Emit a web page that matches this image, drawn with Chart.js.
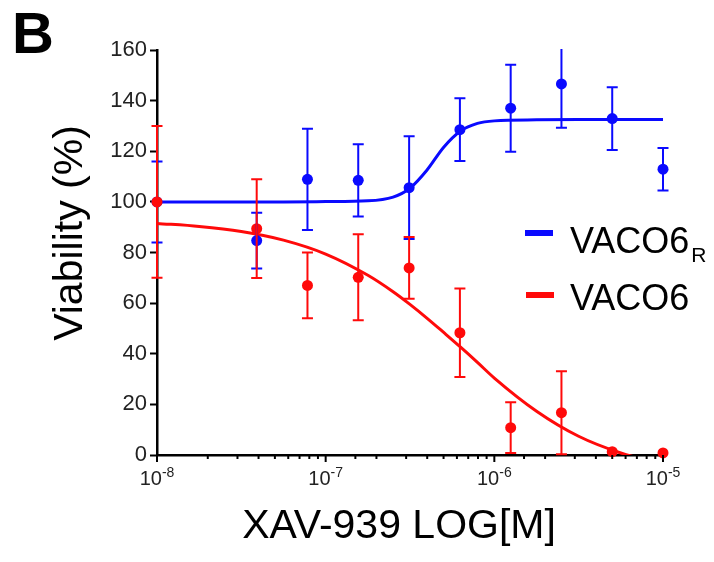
<!DOCTYPE html>
<html>
<head>
<meta charset="utf-8">
<script src="https://cdn.jsdelivr.net/npm/chart.js@4.4.1/dist/chart.umd.min.js"></script>
<style>
  body { margin: 0; background: #fff; }
</style>
</head>
<body>
<canvas id="viability-chart" width="714" height="562"></canvas>
<script>
// measured doses (M), 2-fold dilution from 10 uM, control plotted at 1e-8
var doses = [1e-8, 3.9e-8, 7.8e-8, 1.56e-7, 3.125e-7, 6.25e-7, 1.25e-6, 2.5e-6, 5e-6, 1e-5];
var resistantMean = [100, 84.7, 108.9, 108.5, 105.6, 128.5, 137, 146.6, 132.9, 112.9];
var resistantErr  = [16, 11, 20, 14.3, 20.3, 12.4, 17.2, 17.3, 12.4, 8.4];
var parentalMean  = [100, 89.4, 67, 70.2, 73.9, 48.3, 10.8, 16.7, 1.3, 0.8];
var parentalErr   = [30, 19.5, 13, 17, 12.2, 17.5, 10, 16.4, 0, 0];

// fitted curves
var fitDoses     = [1e-8, 1.78e-8, 3.16e-8, 5.62e-8, 1e-7, 1.78e-7, 2.51e-7, 3.16e-7, 3.98e-7, 5.01e-7, 6.31e-7, 7.94e-7, 1e-6, 1.78e-6, 3.16e-6, 5.62e-6, 1e-5];
var resistantFit = [100, 100, 100, 100, 100.1, 100.4, 101.9, 105.4, 112.5, 121.6, 128, 131, 132, 132.4, 132.5, 132.5, 132.5];
var parentalFit  = [91.5, 90.3, 88.3, 84.9, 79.4, 71.0, 64.5, 59.5, 54.1, 48.4, 42.6, 36.6, 30.4, 17.3, 7.4, 0.8, -3.6];

var yMin = 0, yMax = 160, yStep = 20;
var xMin = 1e-8, xMax = 1e-5;

var BLUE = '#0a0aff', RED = '#ff0a0a';
var FONT = "'Liberation Sans', Arial, sans-serif";

function pts(xs, ys) {
  return xs.map(function (x, i) { return {x: x, y: ys[i]}; });
}
function isDecade(v) {
  var l = Math.log10(v);
  return Math.abs(l - Math.round(l)) < 1e-6;
}

var errorBars = {
  id: 'errorBars',
  afterDatasetsDraw: function (chart) {
    var ctx = chart.ctx, xs = chart.scales.x, ys = chart.scales.y, a = chart.chartArea;
    ctx.save();
    ctx.beginPath();
    ctx.rect(a.left - 10, a.top - 1, a.right - a.left + 20, a.bottom - a.top + 2);
    ctx.clip();
    [[resistantMean, resistantErr, BLUE], [parentalMean, parentalErr, RED]].forEach(function (s) {
      ctx.strokeStyle = s[2];
      ctx.lineWidth = 2;
      doses.forEach(function (d, i) {
        if (!s[1][i]) return;
        var px = xs.getPixelForValue(d);
        var hi = ys.getPixelForValue(s[0][i] + s[1][i]);
        var lo = ys.getPixelForValue(s[0][i] - s[1][i]);
        ctx.beginPath();
        ctx.moveTo(px, hi); ctx.lineTo(px, lo);
        ctx.moveTo(px - 5.5, hi); ctx.lineTo(px + 5.5, hi);
        ctx.moveTo(px - 5.5, lo); ctx.lineTo(px + 5.5, lo);
        ctx.stroke();
      });
    });
    ctx.restore();
  }
};

var annotations = {
  id: 'annotations',
  afterDraw: function (chart) {
    var ctx = chart.ctx, xs = chart.scales.x, a = chart.chartArea;
    ctx.save();
    // x tick marks (longer at decades) and 10^n labels with a real superscript
    ctx.strokeStyle = '#000';
    ctx.fillStyle = '#222';
    ctx.lineWidth = 2;
    ctx.textBaseline = 'alphabetic';
    xs.ticks.forEach(function (t) {
      var px = xs.getPixelForValue(t.value);
      var major = isDecade(t.value);
      ctx.beginPath();
      ctx.moveTo(px, a.bottom);
      ctx.lineTo(px, a.bottom + (major ? 7 : 4));
      ctx.stroke();
      if (!major) return;
      var exp = String(Math.round(Math.log10(t.value)));
      ctx.font = '20px ' + FONT;
      var wb = ctx.measureText('10').width;
      ctx.font = '14px ' + FONT;
      var we = ctx.measureText(exp).width;
      var left = px - (wb + we) / 2;
      ctx.textAlign = 'left';
      ctx.font = '20px ' + FONT;
      ctx.fillText('10', left, 485);
      ctx.font = '14px ' + FONT;
      ctx.fillText(exp, left + wb, 477);
    });

    ctx.fillStyle = '#000';
    ctx.font = 'bold 58px ' + FONT;
    ctx.textAlign = 'left';
    ctx.fillText('B', 12, 53);

    ctx.font = '41px ' + FONT;
    ctx.textAlign = 'center';
    ctx.fillText('XAV-939 LOG[M]', 399, 538);

    ctx.save();
    ctx.translate(82, 233);
    ctx.rotate(-Math.PI / 2);
    ctx.fillText('Viability (%)', 0, 0);
    ctx.restore();

    // legend
    ctx.lineWidth = 6;
    ctx.strokeStyle = BLUE;
    ctx.beginPath(); ctx.moveTo(525, 233); ctx.lineTo(553, 233); ctx.stroke();
    ctx.strokeStyle = RED;
    ctx.beginPath(); ctx.moveTo(526, 295); ctx.lineTo(554, 295); ctx.stroke();
    ctx.textAlign = 'left';
    ctx.font = '36px ' + FONT;
    ctx.fillText('VACO6', 570, 253);
    var w = ctx.measureText('VACO6').width;
    ctx.fillText('VACO6', 570, 310);
    ctx.font = '21px ' + FONT;
    ctx.fillText('R', 570 + w + 2, 262);
    ctx.restore();
  }
};

new Chart(document.getElementById('viability-chart'), {
  type: 'scatter',
  data: {
    datasets: [
      {label: 'VACO6 fit', data: pts(fitDoses, parentalFit), showLine: true, borderColor: RED, borderWidth: 3,
       pointRadius: 0, cubicInterpolationMode: 'monotone', order: 4},
      {label: 'VACO6R fit', data: pts(fitDoses, resistantFit), showLine: true, borderColor: BLUE, borderWidth: 3,
       pointRadius: 0, cubicInterpolationMode: 'monotone', order: 3},
      {label: 'VACO6R', data: pts(doses, resistantMean), pointRadius: 5.5, pointBorderWidth: 0,
       pointBackgroundColor: BLUE, clip: false, order: 2},
      {label: 'VACO6', data: pts(doses, parentalMean), pointRadius: 5.5, pointBorderWidth: 0,
       pointBackgroundColor: RED, clip: false, order: 1}
    ]
  },
  options: {
    responsive: false, animation: false,
    layout: {padding: {top: 50, right: 51, left: 0, bottom: 0}},
    plugins: {legend: {display: false}, tooltip: {enabled: false}},
    scales: {
      x: {
        type: 'logarithmic', min: xMin, max: xMax,
        afterFit: function (s) { s.height = 107; },
        border: {color: '#000', width: 2.5},
        grid: {display: false},
        ticks: {display: false, autoSkip: false}
      },
      y: {
        min: yMin, max: yMax,
        afterFit: function (s) { s.width = 157; },
        border: {color: '#000', width: 2.5},
        grid: {drawOnChartArea: false, tickLength: 7, tickWidth: 2, tickColor: '#000'},
        ticks: {stepSize: yStep, padding: 3, color: '#222', font: {family: FONT, size: 22}}
      }
    }
  },
  plugins: [errorBars, annotations]
});
</script>
</body>
</html>
